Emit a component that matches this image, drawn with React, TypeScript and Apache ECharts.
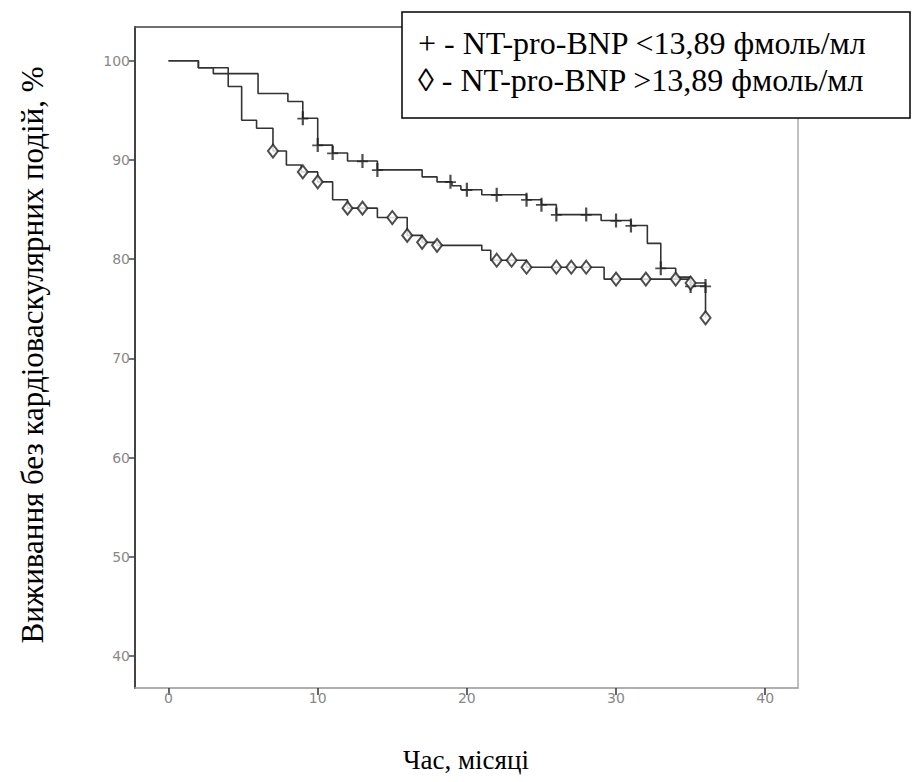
import React, { useEffect, useRef } from "react";
import * as echarts from "echarts";

// Kaplan–Meier step points (time in months, survival %)
const lowTimes = [0, 2.0, 3.0, 6.0, 8.0, 9.0, 10.0, 11.0, 12.0, 14.0, 17.0, 18.0, 19.0, 19.6, 21.0, 24.0, 25.0, 26.0, 29.0, 31.0, 32.1, 33.0, 34.0, 35.0, 36.0];
const lowSurv = [100, 99.3, 98.7, 96.7, 95.9, 94.2, 91.5, 90.7, 89.9, 89.0, 88.3, 87.8, 87.4, 87.0, 86.5, 86.0, 85.5, 84.5, 83.9, 83.4, 81.6, 79.1, 78.2, 77.3, 77.3];
const lowCensored = [9, 10, 11, 13, 14, 18.9, 20, 22, 24, 25, 26, 28, 30, 31, 33, 35, 36];

const highTimes = [0, 2.0, 4.0, 4.9, 5.9, 7.0, 7.9, 8.9, 10.0, 11.0, 12.0, 14.0, 16.0, 17.0, 18.0, 21.0, 21.6, 24.0, 29.2, 35.0, 36.0];
const highSurv = [100, 99.3, 97.4, 94.0, 93.2, 90.9, 89.5, 88.8, 87.8, 86.0, 85.15, 84.2, 82.4, 81.7, 81.4, 80.9, 79.9, 79.2, 78.0, 77.6, 74.1];
const highCensored = [7, 9, 10, 12, 13, 15, 16, 17, 18, 22, 23, 24, 26, 27, 28, 30, 32, 34, 35, 36];

const xTicks = [0, 10, 20, 30, 40];
const yTicks = [40, 50, 60, 70, 80, 90, 100];

const legendLines = [
  "+ - NT-pro-BNP <13,89 фмоль/мл",
  "\u25CA - NT-pro-BNP >13,89 фмоль/мл",
];
const yTitle = "Виживання без кардіоваскулярних подій, %";
const xTitle = "Час, місяці";

function survAt(times: number[], surv: number[], t: number) {
  let v = surv[0];
  for (let i = 0; i < times.length; i++) if (times[i] <= t) v = surv[i];
  return v;
}

const PLUS = "path://M4,0 L6,0 L6,5.5 L10,5.5 L10,7 L6,7 L6,12 L4,12 L4,7 L0,7 L0,5.5 L4,5.5 Z";
const SERIF = "Liberation Serif";

export default function App() {
  const ref = useRef<HTMLDivElement>(null);
  useEffect(() => {
    if (!ref.current) return;
    const chart = echarts.init(ref.current, null, { renderer: "svg" });
    const textStyle = (fontSize: number) => ({
      fontFamily: SERIF,
      fontSize,
      fontWeight: "normal",
      fill: "#000",
    });
    chart.setOption({
      animation: false,
      backgroundColor: "#fff",
      grid: {
        left: 135,
        top: 27,
        right: 125,
        bottom: 94,
        show: true,
        borderColor: "#aaa",
        borderWidth: 1.5,
      },
      xAxis: [
        {
          type: "value",
          min: -2.25,
          max: 42.2,
          position: "bottom",
          splitLine: { show: false },
          axisLine: { show: true, onZero: false, lineStyle: { color: "#aaa", width: 1.5 } },
          axisTick: {
            show: true,
            length: 7,
            customValues: xTicks,
            lineStyle: { color: "#333", width: 1.5 },
          },
          axisLabel: {
            customValues: xTicks,
            color: "#888",
            fontSize: 14,
            margin: 3,
            fontFamily: "DejaVu Sans",
          },
        },
        {
          type: "value",
          min: -2.25,
          max: 42.2,
          position: "top",
          splitLine: { show: false },
          axisLine: { show: true, onZero: false, lineStyle: { color: "#555", width: 1.5 } },
          axisTick: { show: false },
          axisLabel: { show: false },
        },
      ],
      yAxis: {
        type: "value",
        min: 36.8,
        max: 103.4,
        splitLine: { show: false },
        axisLine: { show: true, onZero: false, lineStyle: { color: "#444", width: 2 } },
        axisTick: {
          show: true,
          length: 6,
          customValues: yTicks,
          lineStyle: { color: "#444", width: 1.5 },
        },
        axisLabel: {
          customValues: yTicks,
          color: "#888",
          fontSize: 14,
          margin: 5,
          fontFamily: "DejaVu Sans",
        },
      },
      series: [
        {
          type: "line",
          step: "end",
          symbol: "none",
          data: lowTimes.map((t, i) => [t, lowSurv[i]]),
          lineStyle: { color: "#333", width: 1.6 },
          z: 3,
        },
        {
          type: "line",
          step: "end",
          symbol: "none",
          data: highTimes.map((t, i) => [t, highSurv[i]]),
          lineStyle: { color: "#333", width: 1.6 },
          z: 3,
        },
        {
          type: "scatter",
          symbol: PLUS,
          symbolSize: [11, 14],
          itemStyle: { color: "#222" },
          data: lowCensored.map((t) => [t, survAt(lowTimes, lowSurv, t)]),
          z: 4,
        },
        {
          type: "scatter",
          symbol: "diamond",
          symbolSize: [10, 13],
          itemStyle: { color: "#fff", borderColor: "#222", borderWidth: 2 },
          data: highCensored.map((t) => [t, survAt(highTimes, highSurv, t)]),
          z: 4,
        },
      ],
      graphic: [
        {
          type: "rect",
          shape: { x: 402, y: 12, width: 508, height: 106 },
          style: { fill: "#fff", stroke: "#000", lineWidth: 1.5 },
          z: 10,
        },
        {
          type: "text",
          x: 418,
          y: 43,
          style: { ...textStyle(32), text: legendLines[0], verticalAlign: "middle" },
          z: 11,
        },
        {
          type: "text",
          x: 418,
          y: 80,
          style: { ...textStyle(32), text: legendLines[1], verticalAlign: "middle" },
          z: 11,
        },
        {
          type: "text",
          x: 32,
          y: 355,
          rotation: Math.PI / 2,
          style: { ...textStyle(31), text: yTitle, align: "center", verticalAlign: "middle" },
        },
        {
          type: "text",
          x: 466,
          y: 760,
          style: { ...textStyle(27), text: xTitle, align: "center", verticalAlign: "middle" },
        },
      ],
    });
    return () => chart.dispose();
  }, []);
  return <div ref={ref} style={{ width: 923, height: 782, position: "absolute", left: 0, top: 0 }} />;
}
